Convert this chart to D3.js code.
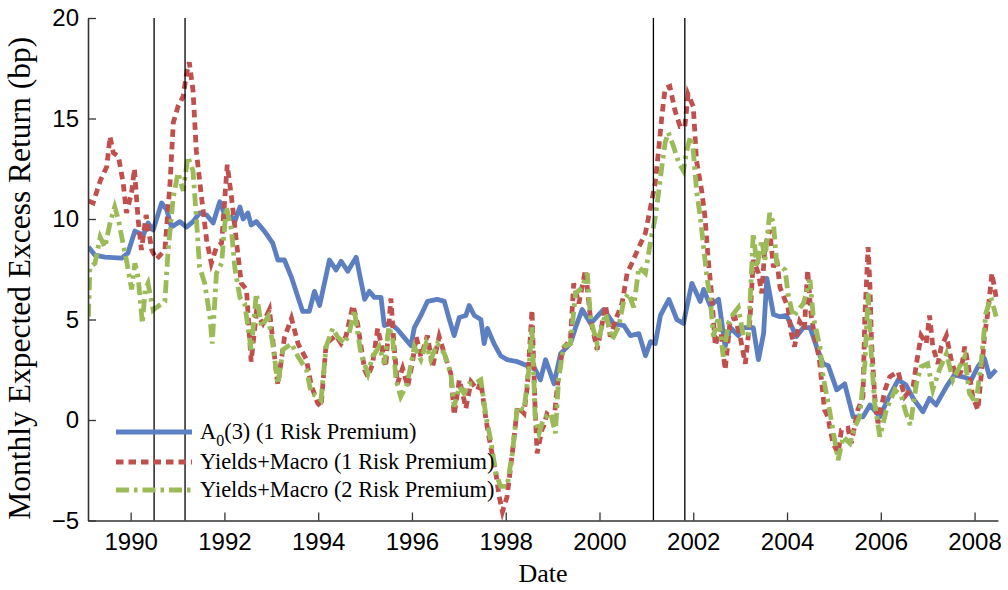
<!DOCTYPE html>
<html>
<head>
<meta charset="utf-8">
<script src="https://cdn.jsdelivr.net/npm/d3@7"></script>
<style>
  html, body { margin: 0; padding: 0; background: #fff; }
  svg { display: block; }
</style>
</head>
<body>
<svg id="chart" width="1008" height="590"></svg>
<script>
// ---------------- DATA ----------------
const a0Dates = [1989.10,1989.24,1989.45,1989.81,1989.94,1990.09,1990.27,1990.37,1990.48,1990.66,1990.77,1990.87,1991.05,1991.19,1991.33,1991.47,1991.62,1991.76,1991.90,1992.04,1992.15,1992.22,1992.33,1992.40,1992.50,1992.57,1992.68,1992.86,1993.03,1993.14,1993.28,1993.43,1993.57,1993.67,1993.81,1993.92,1994.03,1994.24,1994.38,1994.49,1994.63,1994.81,1994.99,1995.09,1995.20,1995.34,1995.41,1995.55,1995.69,1995.98,1996.05,1996.19,1996.33,1996.54,1996.69,1996.79,1996.90,1997.01,1997.15,1997.22,1997.33,1997.47,1997.54,1997.61,1997.75,1997.89,1998.03,1998.25,1998.46,1998.60,1998.74,1998.85,1999.03,1999.17,1999.38,1999.49,1999.63,1999.81,2000.09,2000.30,2000.52,2000.66,2000.84,2000.98,2001.09,2001.19,2001.30,2001.48,2001.65,2001.79,2001.97,2002.15,2002.22,2002.36,2002.54,2002.68,2002.79,2002.96,2003.07,2003.28,2003.39,2003.50,2003.57,2003.71,2003.85,2003.99,2004.20,2004.35,2004.49,2004.63,2004.77,2004.88,2005.06,2005.23,2005.41,2005.62,2005.77,2005.98,2006.16,2006.37,2006.54,2006.69,2006.90,2007.04,2007.18,2007.40,2007.57,2007.75,2007.93,2008.07,2008.21,2008.32,2008.46];
const a0Values = [8.6,8.2,8.1,8.05,8.3,9.4,9.2,9.8,9.45,10.8,10.45,9.6,9.87,9.6,9.87,10.3,10.2,9.8,10.86,10.0,10.1,9.87,10.6,10.0,10.3,9.7,9.87,9.37,8.8,7.96,7.96,7.1,6.1,5.4,5.4,6.4,5.7,7.96,7.46,7.9,7.4,8.1,6.0,6.4,6.1,6.1,4.7,4.8,4.5,3.7,4.6,5.2,5.9,6.0,5.9,5.06,4.2,5.1,5.2,5.7,5.2,5.0,3.8,4.56,3.8,3.2,3.0,2.9,2.7,2.65,2.0,3.0,1.8,3.3,3.8,4.6,5.5,4.8,5.5,4.8,4.7,4.2,4.3,3.2,3.9,3.8,5.2,6.0,5.0,4.8,6.8,5.9,6.5,5.7,6.0,3.65,4.6,4.2,4.6,4.6,3.0,4.3,7.05,5.25,5.14,5.2,4.15,4.6,4.6,3.65,2.8,2.7,1.5,1.8,0.16,0.16,0.75,0.16,1.08,2.0,1.74,1.08,0.41,1.08,0.75,1.66,2.24,2.15,2.0,2.65,3.07,2.15,2.49];

const ym1Dates = [1989.10,1989.20,1989.35,1989.49,1989.56,1989.63,1989.74,1989.84,1989.91,1990.02,1990.08,1990.16,1990.23,1990.33,1990.45,1990.55,1990.73,1990.84,1990.91,1991.01,1991.12,1991.19,1991.25,1991.33,1991.40,1991.51,1991.62,1991.72,1991.83,1991.94,1992.06,1992.15,1992.26,1992.36,1992.47,1992.57,1992.68,1992.82,1992.96,1993.10,1993.14,1993.28,1993.43,1993.57,1993.75,1993.85,1993.99,1994.06,1994.17,1994.27,1994.38,1994.49,1994.59,1994.74,1994.84,1994.99,1995.06,1995.16,1995.27,1995.34,1995.44,1995.55,1995.62,1995.69,1995.80,1995.91,1996.02,1996.09,1996.19,1996.33,1996.44,1996.58,1996.69,1996.83,1996.90,1997.01,1997.08,1997.15,1997.26,1997.40,1997.47,1997.58,1997.68,1997.79,1997.86,1997.93,1998.03,1998.14,1998.25,1998.39,1998.46,1998.56,1998.63,1998.67,1998.77,1998.81,1998.88,1999.03,1999.10,1999.21,1999.38,1999.45,1999.56,1999.70,1999.81,1999.95,2000.13,2000.23,2000.37,2000.48,2000.59,2000.69,2000.84,2000.98,2001.09,2001.19,2001.26,2001.33,2001.40,2001.50,2001.61,2001.72,2001.82,2001.89,2002.00,2002.07,2002.18,2002.25,2002.32,2002.39,2002.47,2002.58,2002.68,2002.79,2002.89,2003.00,2003.11,2003.21,2003.28,2003.39,2003.46,2003.53,2003.63,2003.71,2003.78,2003.85,2004.02,2004.09,2004.16,2004.27,2004.37,2004.44,2004.51,2004.58,2004.69,2004.80,2004.87,2004.98,2005.09,2005.16,2005.30,2005.37,2005.51,2005.62,2005.66,2005.73,2005.77,2005.80,2005.87,2005.94,2006.09,2006.19,2006.37,2006.51,2006.69,2006.76,2006.86,2006.97,2007.04,2007.11,2007.22,2007.29,2007.40,2007.50,2007.61,2007.71,2007.79,2007.86,2007.96,2008.07,2008.14,2008.21,2008.28,2008.37,2008.46];
const ym1Values = [10.9,10.8,11.9,12.6,14.1,13.3,13.1,11.8,10.3,11.3,12.5,9.95,8.46,10.2,8.46,8.0,8.46,11.8,14.8,15.6,16.1,17.2,17.8,16.4,13.4,11.1,8.96,7.8,8.6,8.8,12.7,11.1,8.8,6.8,6.5,2.9,5.3,4.8,5.5,2.5,1.74,4.1,5.06,3.8,3.0,1.74,0.83,0.66,3.8,4.0,4.2,3.8,4.15,5.7,4.8,2.5,2.15,2.8,4.56,3.8,2.65,6.05,3.65,1.8,2.57,1.66,3.0,4.15,3.15,4.2,2.65,4.15,3.3,2.3,0.25,2.0,1.33,0.58,1.9,1.5,1.9,0.0,-1.33,-2.65,-3.8,-4.56,-3.8,-1.66,0.66,0.33,1.66,5.47,0.33,-1.66,-0.5,-0.3,0.3,0.0,1.66,3.5,4.0,6.8,5.8,7.46,5.0,3.5,5.7,4.15,5.14,5.8,7.3,7.8,8.6,9.3,10.6,11.8,13.4,15.1,16.5,16.6,15.4,14.6,14.6,16.2,15.6,12.9,11.4,10.1,7.96,6.3,3.7,4.64,2.5,5.0,5.1,4.15,2.8,5.0,7.96,7.3,6.3,8.6,9.45,7.6,8.0,6.6,5.6,4.3,3.65,4.9,4.5,7.46,5.3,4.3,3.0,0.5,0.16,-1.16,-1.66,-0.5,-0.41,-1.16,0.5,1.16,5.14,8.6,6.6,4.0,1.16,-0.16,1.5,2.15,2.4,1.16,1.66,2.8,4.2,3.8,5.2,3.65,2.8,3.65,4.2,3.0,2.15,2.4,3.65,2.8,1.16,0.5,2.15,4.15,5.3,7.3,6.1];

const ym2Dates = [1989.10,1989.13,1989.24,1989.35,1989.45,1989.56,1989.66,1989.74,1989.81,1989.91,1990.02,1990.09,1990.16,1990.25,1990.31,1990.37,1990.48,1990.55,1990.73,1990.80,1990.91,1991.01,1991.12,1991.22,1991.33,1991.40,1991.47,1991.58,1991.69,1991.74,1991.83,1991.94,1992.04,1992.15,1992.22,1992.33,1992.43,1992.57,1992.68,1992.79,1992.93,1993.03,1993.14,1993.25,1993.43,1993.57,1993.75,1993.85,1993.99,1994.06,1994.17,1994.31,1994.41,1994.56,1994.66,1994.77,1994.91,1995.06,1995.16,1995.30,1995.41,1995.51,1995.59,1995.66,1995.76,1995.90,1996.05,1996.19,1996.30,1996.40,1996.54,1996.69,1996.83,1996.90,1997.01,1997.11,1997.22,1997.33,1997.47,1997.58,1997.68,1997.79,1997.89,1998.03,1998.14,1998.25,1998.39,1998.50,1998.56,1998.63,1998.71,1998.81,1998.96,1999.06,1999.13,1999.24,1999.38,1999.49,1999.63,1999.74,1999.81,1999.95,2000.13,2000.27,2000.41,2000.52,2000.62,2000.73,2000.84,2000.98,2001.09,2001.19,2001.26,2001.33,2001.40,2001.47,2001.58,2001.69,2001.79,2001.86,2001.94,2002.00,2002.07,2002.15,2002.22,2002.29,2002.36,2002.43,2002.54,2002.64,2002.75,2002.86,2002.96,2003.07,2003.18,2003.28,2003.36,2003.46,2003.53,2003.63,2003.71,2003.78,2003.96,2004.02,2004.13,2004.24,2004.35,2004.49,2004.56,2004.70,2004.77,2004.88,2004.98,2005.09,2005.20,2005.34,2005.45,2005.55,2005.66,2005.73,2005.80,2005.87,2005.98,2006.12,2006.30,2006.44,2006.54,2006.63,2006.76,2006.86,2007.00,2007.11,2007.25,2007.40,2007.54,2007.68,2007.79,2007.89,2008.03,2008.14,2008.24,2008.35,2008.46];
const ym2Values = [5.14,7.6,7.8,9.1,8.6,9.8,10.6,9.95,9.1,7.96,6.5,7.8,7.1,4.8,6.5,6.8,5.47,5.6,5.9,8.46,11.1,12.3,11.4,13.1,12.4,10.1,7.6,6.8,5.14,3.8,7.3,7.8,10.6,9.45,7.6,6.1,5.8,3.5,6.3,4.64,5.14,3.8,1.8,3.5,3.8,3.15,2.5,1.33,1.16,1.0,3.65,4.56,4.15,3.8,4.3,5.47,3.3,2.3,3.15,3.65,2.8,4.64,4.0,2.0,1.16,1.8,3.65,3.0,3.8,3.0,3.8,3.3,2.3,0.66,1.66,1.33,1.8,1.8,2.0,0.16,-1.0,-2.65,-3.3,-3.3,-1.66,0.66,0.5,2.65,4.64,0.0,-0.66,0.1,0.33,-0.66,2.15,3.65,3.8,6.3,6.6,7.3,5.0,3.8,5.3,4.0,4.64,5.97,6.3,5.6,7.6,7.3,8.9,10.1,11.3,12.6,13.8,14.3,13.6,12.8,12.4,13.4,14.1,13.4,11.4,10.1,8.6,7.1,6.1,4.15,5.14,3.15,4.8,5.3,5.6,4.15,4.3,9.3,7.6,8.96,7.96,10.3,9.8,7.8,7.46,6.3,5.14,5.47,5.8,6.97,5.14,3.65,2.15,0.83,-0.5,-2.0,-0.83,-1.16,-0.33,0.16,2.8,6.3,3.15,0.83,-0.83,0.5,1.5,1.16,0.33,-0.25,1.8,2.65,2.8,1.5,2.5,3.3,2.0,2.65,3.15,1.33,0.83,2.8,5.3,6.1,5.14];

const recessionDates = [1990.5, 1991.16, 2001.15, 2001.82];
const xTickValues = [1990, 1992, 1994, 1996, 1998, 2000, 2002, 2004, 2006, 2008];
const yTickValues = [-5, 0, 5, 10, 15, 20];
const seriesNames = ["A", "Yields+Macro (1 Risk Premium)", "Yields+Macro (2 Risk Premium)"];
const xDomain = [1989.09, 2008.5];
const yDomain = [-5, 20];

// ---------------- STYLE / LAYOUT ----------------
const W = 1008, H = 590;
const m = { left: 88, right: 998, top: 18, bottom: 520.5 };
const colors = { a0: "#5b7fc0", ym1: "#c0504d", ym2: "#9bbb59" };
const sansFont = "'Liberation Sans', Arial, Helvetica, sans-serif";
const serifFont = "'Liberation Serif', 'Times New Roman', serif";

const svg = d3.select("#chart");
const x = d3.scaleLinear().domain(xDomain).range([m.left, m.right]);
const y = d3.scaleLinear().domain(yDomain).range([m.bottom, m.top]);

const clipId = "plotclip";
svg.append("defs").append("clipPath").attr("id", clipId)
  .append("rect").attr("x", m.left).attr("y", m.top - 5)
  .attr("width", m.right - m.left + 2).attr("height", m.bottom - m.top + 5);

const line = d3.line().x(d => x(d[0])).y(d => y(d[1]));
const zipData = (ds, vs) => ds.map((d, i) => [d, vs[i]]);

const plot = svg.append("g").attr("clip-path", `url(#${clipId})`);

plot.append("path")
  .datum(zipData(a0Dates, a0Values))
  .attr("d", line).attr("fill", "none")
  .attr("stroke", colors.a0).attr("stroke-width", 4.8)
  .attr("stroke-linejoin", "round");

plot.append("path")
  .datum(zipData(ym1Dates, ym1Values))
  .attr("d", line).attr("fill", "none")
  .attr("stroke", colors.ym1).attr("stroke-width", 4.8)
  .attr("stroke-dasharray", "7.5,5");

plot.append("path")
  .datum(zipData(ym2Dates, ym2Values))
  .attr("d", line).attr("fill", "none")
  .attr("stroke", colors.ym2).attr("stroke-width", 4.8)
  .attr("stroke-dasharray", "13,5,3.5,5");

// recession lines
svg.append("g").selectAll("line").data(recessionDates).join("line")
  .attr("x1", d => x(d)).attr("x2", d => x(d))
  .attr("y1", m.top).attr("y2", m.bottom)
  .attr("stroke", "#000").attr("stroke-width", 1.3);

// axes
const yAxis = d3.axisLeft(y).tickValues(yTickValues)
  .tickSizeInner(-8).tickSizeOuter(0).tickPadding(9);
const gy = svg.append("g").attr("transform", `translate(${m.left},0)`).call(yAxis);
gy.select(".domain").attr("stroke", "#333").attr("stroke-width", 1.6);
gy.selectAll(".tick line").attr("stroke", "#333").attr("stroke-width", 1.3);
gy.selectAll(".tick text").attr("font-family", sansFont).attr("font-size", 24).attr("fill", "#000");

const xAxis = d3.axisBottom(x).tickValues(xTickValues).tickFormat(d3.format("d"))
  .tickSizeInner(-8).tickSizeOuter(0).tickPadding(12);
const gx = svg.append("g").attr("transform", `translate(0,${m.bottom})`).call(xAxis);
gx.select(".domain").attr("stroke", "#333").attr("stroke-width", 1.6);
gx.selectAll(".tick line").attr("stroke", "#333").attr("stroke-width", 1.3);
gx.selectAll(".tick text").attr("font-family", sansFont).attr("font-size", 24).attr("fill", "#000");

// axis titles
svg.append("text")
  .attr("x", (m.left + m.right) / 2 - 0).attr("y", 582)
  .attr("text-anchor", "middle").attr("font-family", serifFont)
  .attr("font-size", 26).text("Date");

svg.append("text")
  .attr("transform", `translate(30,${(m.top + m.bottom) / 2 + 9}) rotate(-90)`)
  .attr("text-anchor", "middle").attr("font-family", serifFont)
  .attr("font-size", 31.5).text("Monthly Expected Excess Return (bp)");

// legend
const legendRows = [
  { key: "a0", y: 432, dash: null, w: 4.8 },
  { key: "ym1", y: 462, dash: "7.5,5", w: 4.8 },
  { key: "ym2", y: 490, dash: "13,5,3.5,5", w: 4.8 }
];
const lg = svg.append("g");
legendRows.forEach((r, i) => {
  const ln = lg.append("line")
    .attr("x1", 116).attr("x2", 192).attr("y1", r.y).attr("y2", r.y)
    .attr("stroke", colors[r.key]).attr("stroke-width", r.w);
  if (r.dash) ln.attr("stroke-dasharray", r.dash);
  const t = lg.append("text").attr("x", 200).attr("y", r.y + 7)
    .attr("font-family", serifFont).attr("font-size", 22.4).attr("fill", "#000");
  if (i === 0) {
    t.append("tspan").text(seriesNames[0]);
    t.append("tspan").attr("font-size", 16).attr("dy", 7).text("0");
    t.append("tspan").attr("dy", -7).text("(3) (1 Risk Premium)");
  } else {
    t.text(seriesNames[i]);
  }
});
</script>
</body>
</html>
